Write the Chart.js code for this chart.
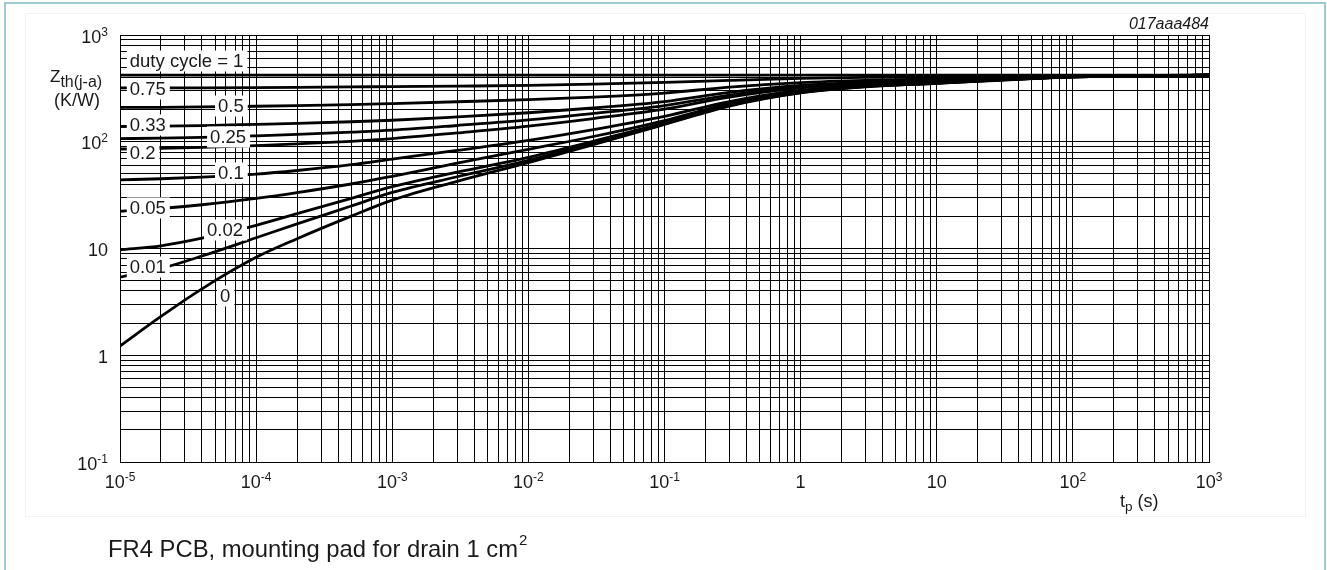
<!DOCTYPE html>
<html>
<head>
<meta charset="utf-8">
<script src="https://cdn.jsdelivr.net/npm/chart.js@4.4.1/dist/chart.umd.min.js"></script>
<style>
  html, body { margin: 0; padding: 0; background: #fff; }
  #wrap { position: relative; width: 1327px; height: 570px; }
</style>
</head>
<body>
<div id="wrap"><canvas id="myChart"></canvas></div>
<script>
// pulse duration tp (s)
var pulseTimes = [1e-5, 2e-5, 4e-5, 1e-4, 2e-4, 5e-4, 1e-3, 3e-3, 1e-2, 3e-2, 0.1, 0.3, 1, 3, 10, 100, 1000];

// Zth(j-a) in K/W for each duty cycle
var zthDuty1    = [420, 420, 420, 420, 420, 420, 420, 420, 420, 420, 420, 420, 420, 420, 420, 420, 420];
var zthDuty075  = [319, 319.5, 320.3, 322, 323.5, 326, 328.5, 332, 337, 346, 360, 376, 392, 401, 406, 417, 420];
var zthDuty05   = [209.5, 210.3, 211.8, 215, 218, 223, 228, 237, 248, 262, 286, 325, 358, 376, 387, 413, 420];
var zthDuty033  = [139, 140, 141.8, 145.5, 148.5, 154, 159, 171, 187, 207, 238, 290, 337, 361, 376, 410, 420];
var zthDuty025  = [107, 108, 109.7, 113.5, 117, 123, 128.5, 142, 160, 184, 218, 274, 328, 354, 371, 409, 420];
var zthDuty02   = [85.5, 86.6, 88.4, 92, 95.5, 101, 107, 121, 140, 165, 202, 262, 320, 349, 367, 408, 420];
var zthDuty01   = [44, 45, 46.6, 49.8, 53.8, 61, 68.8, 83, 103, 130, 173, 238, 304, 339, 360, 406, 420];
var zthDuty005  = [22.4, 23.7, 25.7, 29.5, 33.4, 40.2, 47.5, 63, 85, 112, 158, 228, 296, 333, 356, 405, 420];
var zthDuty002  = [9.7, 10.6, 12.5, 16.5, 21.2, 29.5, 38, 52, 71.5, 101, 150, 222, 291, 330, 354, 405, 420];
var zthDuty001  = [5.4, 6.5, 8.5, 12.6, 17, 25, 33.5, 47, 67, 97.5, 147, 219, 289, 329, 353, 405, 420];
var zthDuty0    = [1.22, 2.31, 4.19, 8.26, 12.35, 20.1, 28.4, 42.6, 63.8, 94, 145, 216, 287, 327, 352, 404, 420];

// tick labels (powers of ten)
var xTickExps = [-5, -4, -3, -2, -1, 0, 1, 2, 3];
var yTickExps = [-1, 0, 1, 2, 3];

var seriesList = [zthDuty1, zthDuty075, zthDuty05, zthDuty033, zthDuty025, zthDuty02,
                  zthDuty01, zthDuty005, zthDuty002, zthDuty001, zthDuty0];

// in-plot curve labels, anchored in data units
var curveLabels = [
    { text: 'duty cycle = 1', t: 1.18e-5, z: 571 },
    { text: '0.75', t: 1.18e-5, z: 312 },
    { text: '0.5',  t: 5.25e-5, z: 216 },
    { text: '0.33', t: 1.18e-5, z: 143.6 },
    { text: '0.25', t: 4.59e-5, z: 110.8 },
    { text: '0.2',  t: 1.18e-5, z: 78.4 },
    { text: '0.1',  t: 5.25e-5, z: 51 },
    { text: '0.05', t: 1.18e-5, z: 24 },
    { text: '0.02', t: 4.36e-5, z: 14.9 },
    { text: '0.01', t: 1.18e-5, z: 6.71 },
    { text: '0',    t: 5.43e-5, z: 3.59 }
];

var FONT = '"Liberation Sans", Arial, sans-serif';
var TEXT_COLOR = '#1a1a1a';

function logTicks(scale) {
    var ticks = [];
    var lo = Math.floor(Math.log10(scale.min));
    var hi = Math.ceil(Math.log10(scale.max));
    for (var e = lo; e <= hi; e++) {
        for (var s = 1; s <= 9; s++) {
            var v = s * Math.pow(10, e);
            if (v >= scale.min * 0.999 && v <= scale.max * 1.001) ticks.push({ value: v });
        }
    }
    scale.ticks = ticks;
}

function powLabel(ctx, exp, x, y, align, size) {
    var base = exp === 0 ? '1' : '10';
    var sup = (exp === 0 || exp === 1) ? '' : String(exp);
    ctx.font = size + 'px ' + FONT;
    var wb = ctx.measureText(base).width;
    ctx.font = Math.round(size * 0.68) + 'px ' + FONT;
    var ws = sup ? ctx.measureText(sup).width : 0;
    var total = wb + ws;
    var x0 = align === 'right' ? x - total : x - total / 2;
    ctx.textAlign = 'left';
    ctx.textBaseline = 'alphabetic';
    ctx.font = size + 'px ' + FONT;
    ctx.fillText(base, x0, y);
    if (sup) {
        ctx.font = Math.round(size * 0.68) + 'px ' + FONT;
        ctx.fillText(sup, x0 + wb, y - 7);
    }
}

var decorPlugin = {
    id: 'decor',
    beforeDraw: function (chart) {
        var ctx = chart.ctx;
        ctx.save();
        ctx.fillStyle = '#fff';
        ctx.fillRect(0, 0, chart.width, chart.height);
        ctx.strokeStyle = '#f2f2f2';
        ctx.lineWidth = 1;
        ctx.strokeRect(25.5, 13.5, 1280, 503);
        ctx.strokeStyle = '#9fc9d0';
        ctx.lineWidth = 2;
        ctx.strokeRect(5, 3, 1320, 620);
        ctx.restore();
    },
    afterDatasetsDraw: function (chart) {
        var ctx = chart.ctx;
        var xs = chart.scales.x, ys = chart.scales.y;
        ctx.save();
        ctx.font = '18.5px ' + FONT;
        ctx.textBaseline = 'middle';
        ctx.textAlign = 'left';
        curveLabels.forEach(function (lb) {
            var px = xs.getPixelForValue(lb.t);
            var py = ys.getPixelForValue(lb.z);
            var w = ctx.measureText(lb.text).width;
            ctx.fillStyle = '#fff';
            ctx.fillRect(px - 3, py - 10.5, w + 7, 21);
            ctx.fillStyle = TEXT_COLOR;
            ctx.fillText(lb.text, px, py + 1);
        });
        ctx.restore();
    },
    afterDraw: function (chart) {
        var ctx = chart.ctx;
        var xs = chart.scales.x, ys = chart.scales.y;
        var area = chart.chartArea;
        ctx.save();
        ctx.fillStyle = TEXT_COLOR;

        xTickExps.forEach(function (e) {
            powLabel(ctx, e, xs.getPixelForValue(Math.pow(10, e)), area.bottom + 26, 'center', 18);
        });
        yTickExps.forEach(function (e) {
            powLabel(ctx, e, area.left - 12, ys.getPixelForValue(Math.pow(10, e)) + 7.5, 'right', 18);
        });

        // y axis title
        ctx.textAlign = 'left';
        ctx.textBaseline = 'alphabetic';
        ctx.font = '17px ' + FONT;
        ctx.fillText('Z', 50, 82);
        var wz = ctx.measureText('Z').width;
        ctx.font = '16px ' + FONT;
        ctx.fillText('th(j-a)', 50 + wz, 87);
        ctx.font = '18px ' + FONT;
        ctx.textAlign = 'center';
        ctx.fillText('(K/W)', 77, 106);

        // x axis title
        ctx.textAlign = 'left';
        ctx.font = '18px ' + FONT;
        ctx.fillText('t', 1120, 507);
        var wt = ctx.measureText('t').width;
        ctx.font = '13.5px ' + FONT;
        ctx.fillText('p', 1120 + wt, 511);
        var wp = ctx.measureText('p').width;
        ctx.font = '18px ' + FONT;
        ctx.fillText(' (s)', 1120 + wt + wp, 507);

        // figure code
        ctx.font = 'italic 16px ' + FONT;
        ctx.textAlign = 'right';
        ctx.fillText('017aaa484', area.right, 29);

        // caption
        ctx.textAlign = 'left';
        ctx.font = '23.8px ' + FONT;
        var cap = 'FR4 PCB, mounting pad for drain 1 cm';
        ctx.fillText(cap, 108, 557);
        var wc = ctx.measureText(cap).width;
        ctx.font = '15px ' + FONT;
        ctx.fillText('2', 108 + wc + 1, 545);
        ctx.restore();
    }
};

var canvas = document.getElementById('myChart');
canvas.width = 1327;
canvas.height = 570;
var ctx = canvas.getContext('2d');

var datasets = seriesList.map(function (vals) {
    return {
        data: pulseTimes.map(function (t, i) { return { x: t, y: vals[i] }; }),
        borderColor: '#000',
        borderWidth: 2.8,
        pointRadius: 0,
        fill: false,
        cubicInterpolationMode: 'monotone'
    };
});

var axisCommon = {
    type: 'logarithmic',
    afterBuildTicks: logTicks,
    ticks: { display: false },
    grid: { color: '#000', lineWidth: 1, drawTicks: false },
    border: { color: '#000', width: 1 }
};

window.myChart = new Chart(ctx, {
    type: 'line',
    data: { datasets: datasets },
    options: {
        responsive: false,
        animation: false,
        layout: { padding: { left: 120, right: 118, top: 35, bottom: 108 } },
        plugins: { legend: { display: false }, tooltip: { enabled: false } },
        scales: {
            x: Object.assign({}, axisCommon, { min: 1e-5, max: 1e3 }),
            y: Object.assign({}, axisCommon, { min: 0.1, max: 1000 })
        }
    },
    plugins: [decorPlugin]
});
</script>
</body>
</html>
